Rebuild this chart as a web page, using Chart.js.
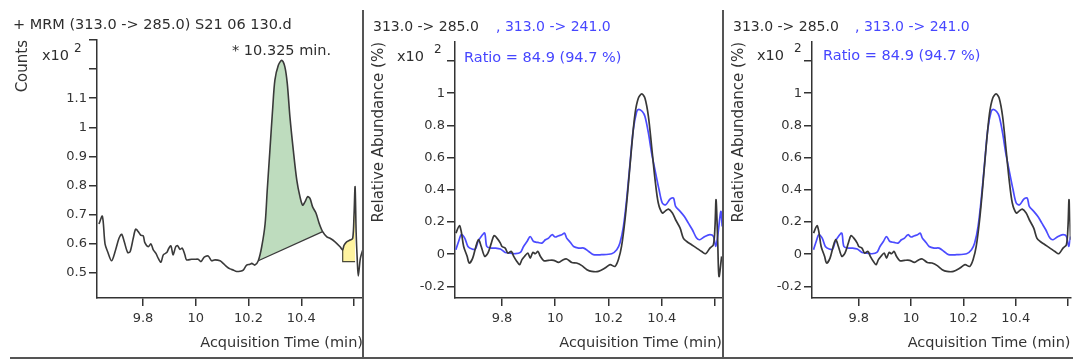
<!DOCTYPE html>
<html>
<head>
<meta charset="utf-8">
<script src="https://cdn.jsdelivr.net/npm/chart.js@4/dist/chart.umd.min.js"></script>
<style>
  body { margin: 0; background: #fff; }
  #wrap { position: relative; width: 1073px; height: 359px; overflow: hidden; background: #fff; }
  canvas { position: absolute; top: 0; }
  .t { position: absolute; white-space: nowrap; font-family: "DejaVu Sans", sans-serif; font-size: 14.5px; line-height: 16px; color: #2e2e2e; }
  .blue { color: #4646ff; }
  .sup { font-size: 12px; }
  .sep { position: absolute; background: #555; }
</style>
</head>
<body>
<div id="wrap">
  <canvas id="mrmChart" width="363" height="359" style="left:0"></canvas>
  <canvas id="ratioChartA" width="359" height="359" style="left:363px"></canvas>
  <canvas id="ratioChartB" width="350" height="359" style="left:723px"></canvas>

  <div class="t" style="left:13px;top:16px">+ MRM (313.0 -&gt; 285.0) S21 06 130.d</div>
  <div class="t" style="left:42px;top:47px">x10</div>
  <div class="t sup" style="left:74px;top:40px">2</div>
  <div class="t" style="left:232px;top:42px">* 10.325 min.</div>

  <div class="t" style="left:373px;top:18px;font-size:14px">313.0 -&gt; 285.0</div>
  <div class="t blue" style="left:496px;top:18px;font-size:14px">, 313.0 -&gt; 241.0</div>
  <div class="t" style="left:397px;top:48px">x10</div>
  <div class="t sup" style="left:434px;top:41px">2</div>
  <div class="t blue" style="left:464px;top:49px">Ratio = 84.9 (94.7 %)</div>

  <div class="t" style="left:733px;top:18px;font-size:14px">313.0 -&gt; 285.0</div>
  <div class="t blue" style="left:855px;top:18px;font-size:14px">, 313.0 -&gt; 241.0</div>
  <div class="t" style="left:757px;top:47px">x10</div>
  <div class="t sup" style="left:794px;top:40px">2</div>
  <div class="t blue" style="left:823px;top:47px">Ratio = 84.9 (94.7 %)</div>

  <div class="sep" style="left:362px;top:10px;width:1.5px;height:349px"></div>
  <div class="sep" style="left:722px;top:10px;width:1.5px;height:349px"></div>
  <div class="sep" style="left:10px;top:357px;width:1063px;height:1.5px"></div>
</div>

<script>
const timeTicks = [9.8, 10, 10.2, 10.4, 10.6];
const countTicks = [0.5, 0.6, 0.7, 0.8, 0.9, 1, 1.1, 1.2, 1.3];
const abundTicks = [-0.2, 0, 0.2, 0.4, 0.6, 0.8, 1, 1.2];

// MRM 313.0 -> 285.0, counts (x10^2)
const mrmTime = [9.633, 9.646, 9.656, 9.666, 9.681, 9.696, 9.709, 9.719, 9.729, 9.742,
  9.751, 9.763, 9.772, 9.782, 9.791, 9.801, 9.807, 9.820, 9.830, 9.839,
  9.849, 9.858, 9.868, 9.877, 9.890, 9.898, 9.906, 9.914, 9.924, 9.931,
  9.940, 9.949, 9.959, 9.965, 9.984, 9.997, 10.009, 10.020, 10.032, 10.047,
  10.060, 10.073, 10.092, 10.104, 10.117, 10.130, 10.142, 10.155, 10.168, 10.180,
  10.193, 10.206, 10.212, 10.224, 10.237, 10.250, 10.263, 10.271, 10.281, 10.292,
  10.300, 10.313, 10.326, 10.338, 10.347, 10.357, 10.370, 10.383, 10.395, 10.405,
  10.414, 10.424, 10.433, 10.443, 10.456, 10.468, 10.481, 10.497, 10.509, 10.528,
  10.547, 10.557, 10.562, 10.572, 10.585, 10.595, 10.600, 10.604, 10.608, 10.612,
  10.616, 10.624, 10.633];
const mrmCounts = [0.668, 0.695, 0.600, 0.573, 0.542, 0.579, 0.619, 0.633, 0.607, 0.570,
  0.573, 0.619, 0.650, 0.642, 0.630, 0.627, 0.604, 0.590, 0.600, 0.579,
  0.567, 0.550, 0.537, 0.562, 0.570, 0.585, 0.593, 0.562, 0.590, 0.594,
  0.581, 0.585, 0.562, 0.545, 0.547, 0.547, 0.547, 0.539, 0.554, 0.558,
  0.542, 0.545, 0.542, 0.533, 0.522, 0.514, 0.510, 0.505, 0.506, 0.510,
  0.527, 0.530, 0.533, 0.527, 0.542, 0.590, 0.670, 0.785, 0.920, 1.070,
  1.162, 1.213, 1.230, 1.207, 1.150, 1.036, 0.920, 0.819, 0.762, 0.733,
  0.744, 0.762, 0.756, 0.727, 0.705, 0.670, 0.642, 0.624, 0.619, 0.607,
  0.590, 0.579, 0.595, 0.607, 0.613, 0.619, 0.700, 0.796, 0.640, 0.550,
  0.490, 0.550, 0.579];

// integration limits
const peakStart = 10.237, peakEnd = 10.481;
const tailStart = 10.557, tailEnd = 10.604, tailBase = 0.539;

// quantifier 313.0 -> 285.0, relative abundance (x10^2)
const quantTime = [9.627, 9.640, 9.647, 9.656, 9.669, 9.677, 9.690, 9.702, 9.712, 9.722,
  9.735, 9.747, 9.760, 9.770, 9.781, 9.794, 9.800, 9.812, 9.822, 9.835,
  9.844, 9.856, 9.866, 9.875, 9.885, 9.897, 9.906, 9.916, 9.925, 9.935,
  9.944, 9.957, 9.975, 9.994, 10.013, 10.030, 10.043, 10.062, 10.080, 10.100,
  10.119, 10.137, 10.162, 10.187, 10.206, 10.224, 10.237, 10.249, 10.262, 10.274,
  10.287, 10.300, 10.312, 10.325, 10.337, 10.350, 10.362, 10.375, 10.387, 10.402,
  10.412, 10.425, 10.440, 10.452, 10.469, 10.481, 10.494, 10.512, 10.531, 10.550,
  10.565, 10.581, 10.594, 10.600, 10.604, 10.610, 10.615, 10.625];
const quantAbund = [0.131, 0.177, 0.141, 0.048, -0.013, -0.055, -0.024, 0.048, 0.090, 0.048,
  -0.013, 0.007, 0.069, 0.115, 0.100, 0.069, 0.048, 0.038, 0.007, 0.017,
  -0.013, -0.045, -0.065, -0.034, -0.013, 0.007, -0.024, 0.011, 0.003, 0.017,
  -0.013, -0.040, -0.038, -0.038, -0.051, -0.034, -0.030, -0.051, -0.055, -0.071,
  -0.096, -0.107, -0.107, -0.086, -0.065, -0.076, -0.034, 0.048, 0.214, 0.421,
  0.669, 0.876, 0.969, 0.996, 0.969, 0.855, 0.669, 0.462, 0.318, 0.256,
  0.266, 0.280, 0.256, 0.214, 0.162, 0.100, 0.079, 0.059, 0.038, 0.017,
  0.003, 0.038, 0.059, 0.173, 0.338, 0.090, -0.138, -0.014];

// qualifier 313.0 -> 241.0, relative abundance (x10^2)
const qualTime = [9.627, 9.637, 9.647, 9.660, 9.672, 9.687, 9.700, 9.710, 9.722, 9.735,
  9.743, 9.760, 9.775, 9.794, 9.812, 9.831, 9.850, 9.869, 9.881, 9.894,
  9.906, 9.919, 9.935, 9.950, 9.963, 9.975, 9.988, 10.000, 10.013, 10.025,
  10.035, 10.043, 10.057, 10.069, 10.088, 10.107, 10.126, 10.143, 10.174, 10.212,
  10.231, 10.243, 10.256, 10.268, 10.281, 10.293, 10.306, 10.314, 10.327, 10.337,
  10.350, 10.362, 10.377, 10.390, 10.402, 10.415, 10.431, 10.444, 10.452, 10.469,
  10.485, 10.500, 10.515, 10.531, 10.543, 10.562, 10.581, 10.594, 10.603, 10.610,
  10.622, 10.627];
const qualAbund = [0.028, 0.079, 0.121, 0.100, 0.048, 0.032, 0.032, 0.079, 0.110, 0.131,
  0.048, 0.038, 0.038, 0.032, 0.011, 0.007, 0.003, 0.011, 0.048, 0.079,
  0.110, 0.079, 0.073, 0.069, 0.090, 0.100, 0.121, 0.107, 0.115, 0.121,
  0.131, 0.100, 0.073, 0.048, 0.038, 0.038, 0.017, -0.003, -0.003, 0.003,
  0.028, 0.069, 0.172, 0.338, 0.566, 0.772, 0.886, 0.900, 0.886, 0.855,
  0.752, 0.628, 0.504, 0.400, 0.318, 0.307, 0.342, 0.349, 0.297, 0.266,
  0.234, 0.193, 0.152, 0.100, 0.090, 0.110, 0.121, 0.110, 0.048, 0.110,
  0.266, 0.172];

const INK = '#333';
const FONT = 'DejaVu Sans';
const TRACE_TENSION = 0.3;

const pts = (xs, ys) => xs.map((x, i) => ({ x, y: ys[i] }));
const mrmPts = pts(mrmTime, mrmCounts);
const between = (from, to) => mrmPts.filter(p => p.x >= from && p.x <= to);

const peakPts = between(peakStart, peakEnd);
const tailPts = between(tailStart, tailEnd);
// straight integration baseline under the main peak
const peakBase = [peakPts[0], peakPts[peakPts.length - 1]];
// outline of the small area: left edge then the flat baseline
const tailEdge = [tailPts[0], { x: tailStart, y: tailBase }, { x: tailEnd, y: tailBase }];

const fmt = v => String(+v.toFixed(1));

function makeChart(id, cfg) {
    return new Chart(document.getElementById(id), {
        type: 'line',
        data: { datasets: cfg.datasets },
        options: {
            responsive: false,
            animation: false,
            layout: { padding: { top: cfg.top, bottom: 7, left: 0, right: 0 } },
            plugins: { legend: { display: false }, tooltip: { enabled: false } },
            elements: { point: { radius: 0 }, line: { tension: 0 } },
            scales: {
                x: {
                    type: 'linear',
                    min: cfg.xMin, max: cfg.xMax,
                    afterBuildTicks: s => { s.ticks = timeTicks.map(value => ({ value })); },
                    afterFit: s => { s.height = 54; },
                    ticks: {
                        autoSkip: false, maxRotation: 0, padding: 5, color: INK,
                        font: { family: FONT, size: 13 },
                        callback: v => v > 10.5 ? '' : fmt(v)
                    },
                    grid: { drawOnChartArea: false, tickLength: 8, color: INK, lineWidth: 1.5 },
                    border: { color: INK, width: 1.5 },
                    title: {
                        display: true, text: 'Acquisition Time (min)', align: 'end',
                        color: INK, font: { family: FONT, size: 14.5 }, padding: 0
                    }
                },
                y: {
                    type: 'linear',
                    min: cfg.yMin, max: cfg.yMax,
                    afterBuildTicks: s => { s.ticks = cfg.yTicks.map(value => ({ value })); },
                    afterFit: s => { s.width = cfg.yWidth; },
                    ticks: {
                        autoSkip: false, padding: 2, color: INK,
                        font: { family: FONT, size: 13 },
                        callback: v => v > cfg.yLabelMax ? '' : fmt(v)
                    },
                    grid: { drawOnChartArea: false, tickLength: 8, color: INK, lineWidth: 1.5 },
                    border: { color: INK, width: 1.5 },
                    title: {
                        display: true, text: cfg.yTitle, align: 'end',
                        color: INK, font: { family: FONT, size: 15 },
                        padding: { top: cfg.titlePad, bottom: 0 }
                    }
                }
            }
        }
    });
}

function overlaySets() {
    return [
        { data: pts(quantTime, quantAbund), borderColor: '#383838', borderWidth: 1.7, tension: TRACE_TENSION, fill: false },
        { data: pts(qualTime, qualAbund), borderColor: '#4b4bff', borderWidth: 1.7, tension: TRACE_TENSION, fill: false }
    ];
}

// datasets with a lower index are drawn on top
makeChart('mrmChart', {
    top: 40, xMin: 9.6256, xMax: 10.634, yMin: 0.414, yMax: 1.3,
    yTicks: countTicks, yLabelMax: 1.15, yWidth: 97, yTitle: 'Counts', titlePad: 14,
    datasets: [
        { data: mrmPts, borderColor: '#3a3a3a', borderWidth: 1.6, tension: TRACE_TENSION, fill: false },
        { data: peakBase, borderColor: '#3a3a3a', borderWidth: 1.3, fill: false },
        { data: tailEdge, borderColor: '#4a4a3a', borderWidth: 1.2, fill: false },
        { data: peakPts, borderWidth: 0, tension: TRACE_TENSION, backgroundColor: '#bedcbe', fill: 1 },
        { data: tailPts, borderWidth: 0, tension: TRACE_TENSION, backgroundColor: '#fff4a0', fill: { value: tailBase } }
    ]
});

makeChart('ratioChartA', {
    top: 42, xMin: 9.6235, xMax: 10.6263, yMin: -0.272, yMax: 1.318,
    yTicks: abundTicks, yLabelMax: 1.1, yWidth: 92, yTitle: 'Relative Abundance (%)', titlePad: 7,
    datasets: overlaySets()
});

makeChart('ratioChartB', {
    top: 42, xMin: 9.621, xMax: 10.6095, yMin: -0.272, yMax: 1.318,
    yTicks: abundTicks, yLabelMax: 1.1, yWidth: 89, yTitle: 'Relative Abundance (%)', titlePad: 7,
    datasets: overlaySets()
});
</script>
</body>
</html>
